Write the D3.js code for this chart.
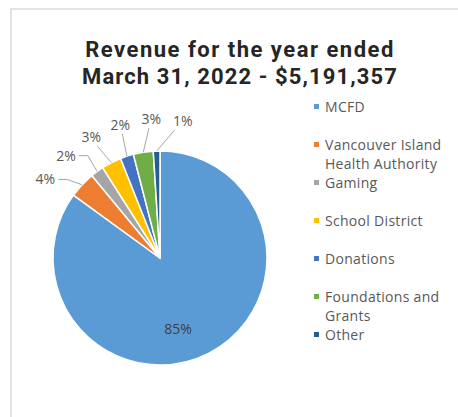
<!DOCTYPE html>
<html>
<head>
<meta charset="utf-8">
<script src="https://cdn.jsdelivr.net/npm/d3@7"></script>
<style>
  body { margin: 0; background: #fff; }
  text { font-family: "Open Sans", Lato, sans-serif; }
</style>
</head>
<body>
<svg id="chart" width="458" height="417"></svg>
<script>
// revenue share by source, in percent
var categories = ["MCFD", "Vancouver Island Health Authority", "Gaming", "School District",
                  "Donations", "Foundations and Grants", "Other"];
var shares = [85, 4, 2, 3, 2, 3, 1];
var legendLines = [["MCFD"], ["Vancouver Island", "Health Authority"], ["Gaming"], ["School District"],
                   ["Donations"], ["Foundations and", "Grants"], ["Other"]];
var titleLines = ["Revenue for the year ended", "March 31, 2022 - $5,191,357"];
var colors = ["#5b9bd5", "#ed7d31", "#a5a5a5", "#ffc000", "#4472c4", "#70ad47", "#255e91"];

var cx = 160, cy = 258, radius = 107;

window.onload = function() {
   var svg = d3.select("#chart");

   // light frame around the chart area
   svg.append("rect")
      .attr("x", 11).attr("y", 9)
      .attr("width", 470).attr("height", 430)
      .attr("fill", "none")
      .attr("stroke", "#e3e3e3")
      .attr("stroke-width", 2);

   // Roboto keeps the two title lines from overlapping at this size
   svg.selectAll(".title")
      .data(titleLines)
      .enter().append("text")
      .attr("class", "title")
      .attr("x", 240)
      .attr("y", function(d, i) { return 57 + i * 26.5; })
      .attr("text-anchor", "middle")
      .style("font-family", "Roboto, sans-serif")
      .attr("font-size", 22)
      .attr("letter-spacing", function(d, i) { return i == 0 ? 1.5 : 1.1; })
      .attr("font-weight", "bold")
      .attr("fill", "#262626")
      .text(function(d) { return d; });

   drawPie(svg);
   drawLegend(svg);
};

function drawPie(svg) {
   var pie = d3.pie().sort(null).value(function(d) { return d; });
   var arcs = pie(shares);
   var arc = d3.arc().innerRadius(0).outerRadius(radius);
   var g = svg.append("g").attr("transform", "translate(" + cx + "," + cy + ")");

   g.selectAll("path")
      .data(arcs)
      .enter().append("path")
      .attr("d", arc)
      .attr("fill", function(d, i) { return colors[i]; })
      .attr("stroke", "#fff")
      .attr("stroke-width", 1.5);

   // big slice gets its label inside
   var inner = d3.arc().innerRadius(radius * 0.68).outerRadius(radius * 0.68);
   var c = inner.centroid(arcs[0]);
   g.append("text")
      .attr("x", c[0] - 15).attr("y", c[1] + 6)
      .attr("dy", "0.35em")
      .attr("text-anchor", "middle")
      .attr("font-size", 14)
      .attr("fill", "#404040")
      .text(shares[0] + "%");

   // small slices: outside labels, spread apart so they don't collide
   var small = arcs.slice(1).map(function(d) {
      var mid = (d.startAngle + d.endAngle) / 2 - 2 * Math.PI;
      return { d: d, mid: mid, ang: mid };
   });
   var minGap = 13 * Math.PI / 180;
   for (var k = 0; k < 200; k++) {
      for (var i = 0; i < small.length - 1; i++) {
         var gap = small[i + 1].ang - small[i].ang;
         if (gap < minGap) {
            small[i].ang -= (minGap - gap) / 2;
            small[i + 1].ang += (minGap - gap) / 2;
         }
      }
   }
   var labelR = radius + 32;
   small.forEach(function(s) {
      var lx = labelR * Math.sin(s.ang), ly = -labelR * Math.cos(s.ang);
      var px = radius * Math.sin(s.mid), py = -radius * Math.cos(s.mid);
      var pts;
      if (Math.sin(s.ang) < -0.5) {
         pts = [[lx + 13, ly], [lx + 22, ly], [px, py]];
      } else {
         pts = [[lx + (px - lx) * 0.3, ly + 9], [px, py]];
      }
      g.append("path")
         .attr("d", d3.line()(pts))
         .attr("fill", "none")
         .attr("stroke", "#a6a6a6")
         .attr("stroke-width", 1);
      g.append("text")
         .attr("x", lx).attr("y", ly)
         .attr("dy", "0.35em")
         .attr("text-anchor", "middle")
         .attr("font-size", 14)
         .attr("fill", "#595959")
         .text(s.d.data + "%");
   });
}

function drawLegend(svg) {
   var y = d3.scalePoint().domain(categories).range([107, 335]);
   var items = svg.selectAll(".legend")
      .data(categories)
      .enter().append("g")
      .attr("class", "legend")
      .attr("transform", function(d) { return "translate(317," + y(d) + ")"; });

   items.append("rect")
      .attr("x", -3).attr("y", -3)
      .attr("width", 5).attr("height", 5)
      .attr("fill", function(d, i) { return colors[i]; });

   items.append("text")
      .attr("x", 8)
      .attr("font-size", 14)
      .attr("letter-spacing", 0.3)
      .attr("fill", "#595959")
      .selectAll("tspan")
      .data(function(d, i) { return legendLines[i]; })
      .enter().append("tspan")
      .attr("x", 8)
      .attr("y", function(d, j) { return j * 19; })
      .attr("dy", "0.35em")
      .text(function(d) { return d; });
}
</script>
</body>
</html>
